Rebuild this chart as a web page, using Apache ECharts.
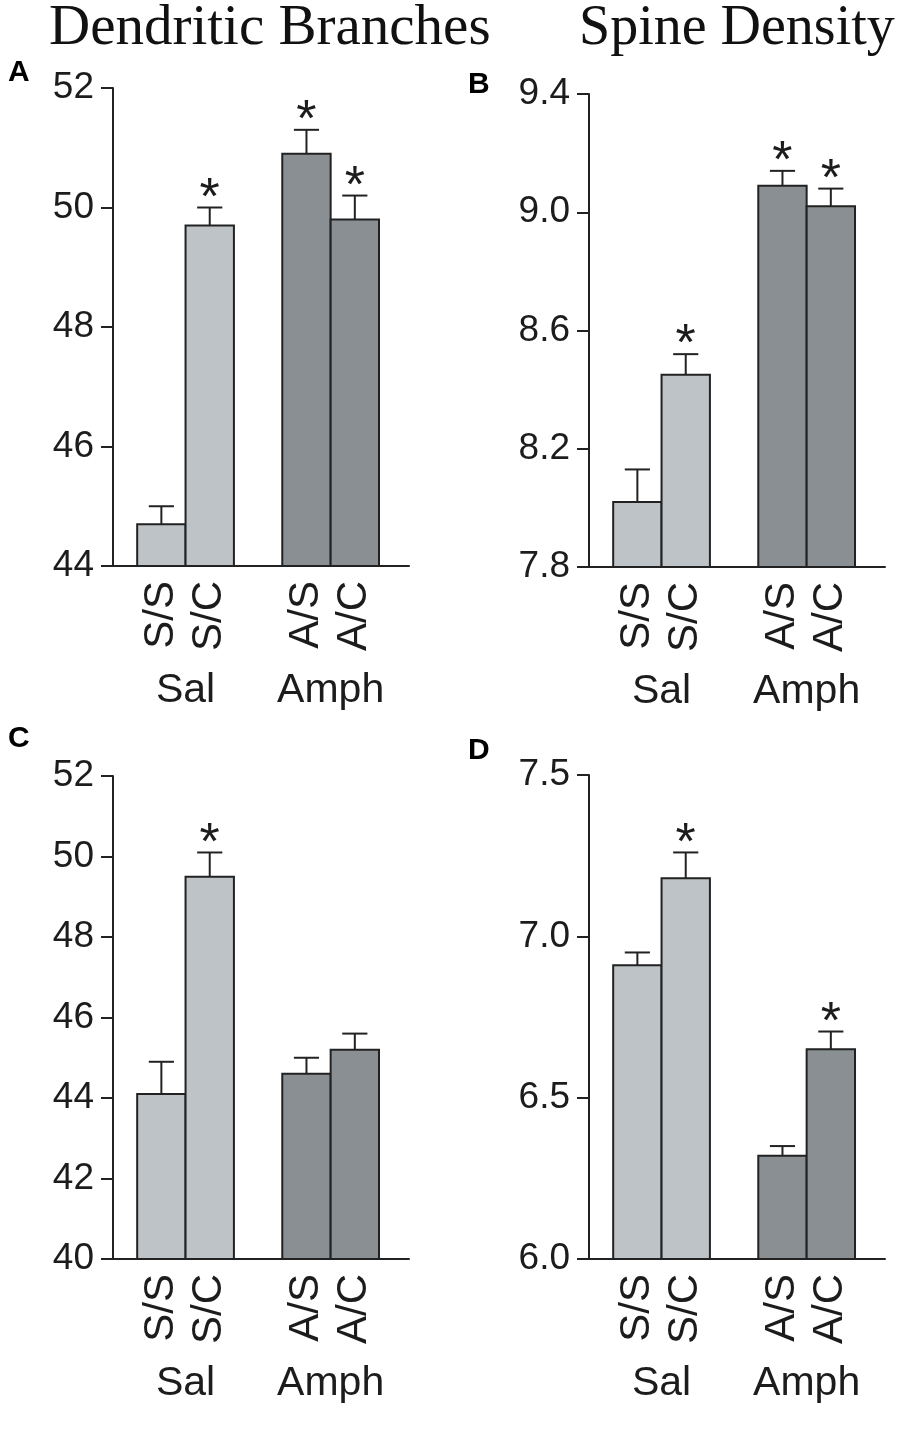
<!DOCTYPE html>
<html>
<head>
<meta charset="utf-8">
<script src="https://cdn.jsdelivr.net/npm/echarts@6.0.0/dist/echarts.min.js"></script>
<style>
html, body { margin: 0; padding: 0; background: #fff; }
#chart { width: 908px; height: 1434px; }
</style>
</head>
<body>
<div id="chart"></div>
<script>
// data
var categories = ['S/S', 'S/C', 'A/S', 'A/C'];
var groups = ['Sal', 'Amph'];

var branchesA = [44.7, 49.7, 50.9, 49.8];
var branchesAErr = [0.3, 0.3, 0.4, 0.4];
var branchesASig = [false, true, true, true];
var ticksA = [44, 46, 48, 50, 52];

var spinesB = [8.02, 8.45, 9.09, 9.02];
var spinesBErr = [0.11, 0.07, 0.05, 0.06];
var spinesBSig = [false, true, true, true];
var ticksB = [7.8, 8.2, 8.6, 9.0, 9.4];

var branchesC = [44.1, 49.5, 44.6, 45.2];
var branchesCErr = [0.8, 0.6, 0.4, 0.4];
var branchesCSig = [false, true, false, false];
var ticksC = [40, 42, 44, 46, 48, 50, 52];

var spinesD = [6.91, 7.18, 6.32, 6.65];
var spinesDErr = [0.04, 0.08, 0.03, 0.055];
var spinesDSig = [false, true, false, true];
var ticksD = [6.0, 6.5, 7.0, 7.5];

var FONT = '"Liberation Sans", Arial, sans-serif';
var SERIF = '"Liberation Serif", "Times New Roman", serif';
var INK = '#1c1c1c';
var LIGHT = '#bdc3c6';
var DARK = '#898f93';

// bar i sits in slot 1,2 (Sal) or 4,5 (Amph); one empty slot between groups
function slotOf(i){ return i + 1 + Math.floor(i / 2); }

var chartObj = {
    myChart : echarts.init(document.getElementById('chart')),
    option : null,
    panels : [
        {letter:'A', values:branchesA, errs:branchesAErr, sig:branchesASig, ticks:ticksA, dec:0, left:113, top:88, height:478, lx:8, ly:58},
        {letter:'B', values:spinesB, errs:spinesBErr, sig:spinesBSig, ticks:ticksB, dec:1, left:589, top:94, height:473, lx:468, ly:70},
        {letter:'C', values:branchesC, errs:branchesCErr, sig:branchesCSig, ticks:ticksC, dec:0, left:113, top:776, height:483, lx:8, ly:724},
        {letter:'D', values:spinesD, errs:spinesDErr, sig:spinesDSig, ticks:ticksD, dec:1, left:589, top:775, height:484, lx:468, ly:736}
    ],
    init : function(){
        var that = this;
        that.drawChart();
    },
    renderBar : function(minVal){
        return function(params, api){
            var x = api.value(0), v = api.value(1), e = api.value(2), s = api.value(3), g = api.value(4);
            var tl = api.coord([x - 0.5, v]);
            var br = api.coord([x + 0.5, minVal]);
            var top = api.coord([x, v + e]);
            var capHalf = (br[0] - tl[0]) * 0.26;
            var children = [
                {type:'rect', shape:{x:tl[0], y:tl[1], width:br[0] - tl[0], height:br[1] - tl[1]},
                 style:{fill: g ? DARK : LIGHT, stroke:'#222', lineWidth:2}},
                {type:'line', shape:{x1:top[0], y1:tl[1], x2:top[0], y2:top[1]}, style:{stroke:'#222', lineWidth:2}},
                {type:'line', shape:{x1:top[0] - capHalf, y1:top[1], x2:top[0] + capHalf, y2:top[1]}, style:{stroke:'#222', lineWidth:2}}
            ];
            if(s){
                children.push({type:'text', style:{text:'*', x:top[0], y:top[1] - 8, align:'center', verticalAlign:'middle',
                    fontSize:52, fontFamily:FONT, fill:INK}});
            }
            return {type:'group', children:children};
        };
    },
    drawChart : function(){
        var that = this;
        var grids = [], xAxes = [], yAxes = [], series = [];
        var titles = [
            {text:'Dendritic Branches', left:49, top:1, padding:0, textStyle:{fontFamily:SERIF, fontSize:57, fontWeight:'normal', color:'#111'}},
            {text:'Spine Density', left:579, top:1, padding:0, textStyle:{fontFamily:SERIF, fontSize:56, fontWeight:'normal', color:'#111'}}
        ];
        that.panels.forEach(function(p, k){
            var n = p.ticks.length;
            var step = Math.round((p.ticks[1] - p.ticks[0]) * 1e6) / 1e6;
            grids.push({left:p.left, top:p.top, width:296, height:p.height, outerBoundsMode:'none', containLabel:false});
            titles.push({text:p.letter, left:p.lx, top:p.ly, padding:0,
                textStyle:{fontFamily:FONT, fontSize:30, fontWeight:'bold', color:'#000'}});
            yAxes.push({
                type:'value', gridIndex:k, min:p.ticks[0], max:p.ticks[n - 1], interval:step,
                axisLine:{show:true, lineStyle:{color:'#222', width:2}},
                axisTick:{show:true, length:12, lineStyle:{color:'#222', width:2}},
                splitLine:{show:false},
                axisLabel:{fontSize:37, fontFamily:FONT, color:INK, margin:19,
                    formatter:function(v){ return Number(v).toFixed(p.dec); }}
            });
            xAxes.push({
                type:'value', gridIndex:k, position:'bottom', min:0, max:6.12, interval:1,
                axisLine:{onZero:false, lineStyle:{color:'#222', width:2}},
                axisTick:{show:false}, splitLine:{show:false},
                axisLabel:{rotate:90, fontSize:42, fontFamily:FONT, color:INK, margin:15, showMaxLabel:false,
                    formatter:function(v){
                        for(var i = 0; i < categories.length; i++){
                            if(Math.abs(v - slotOf(i)) < 1e-6){ return categories[i]; }
                        }
                        return '';
                    }}
            });
            xAxes.push({
                type:'value', gridIndex:k, position:'bottom', offset:0, min:0, max:6.12, interval:0.5,
                axisLine:{show:false}, axisTick:{show:false}, splitLine:{show:false},
                axisLabel:{fontSize:41, fontFamily:FONT, color:INK, margin:104, showMaxLabel:false,
                    formatter:function(v){
                        for(var g = 0; g < groups.length; g++){
                            if(Math.abs(v - (1.5 + 3 * g)) < 1e-6){ return groups[g]; }
                        }
                        return '';
                    }}
            });
            var data = p.values.map(function(v, i){
                return [slotOf(i), v, p.errs[i], p.sig[i] ? 1 : 0, Math.floor(i / 2)];
            });
            series.push({
                type:'custom', xAxisIndex:2 * k, yAxisIndex:k, coordinateSystem:'cartesian2d',
                encode:{x:0, y:1}, data:data, renderItem:that.renderBar(p.ticks[0]),
                silent:true, animation:false
            });
        });
        that.option = {
            backgroundColor:'#fff',
            animation:false,
            title:titles,
            grid:grids,
            xAxis:xAxes,
            yAxis:yAxes,
            series:series
        };
        that.myChart.setOption(that.option);
    }
};
chartObj.init();
</script>
</body>
</html>
